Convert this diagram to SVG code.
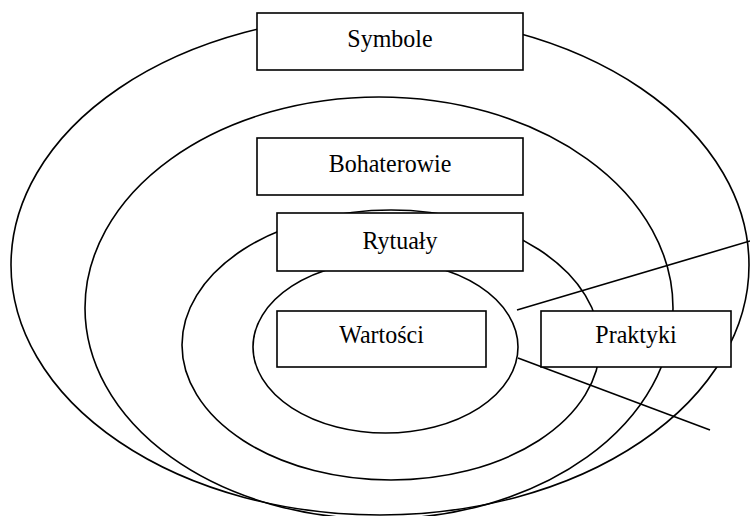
<svg xmlns="http://www.w3.org/2000/svg" width="750" height="516" viewBox="0 0 750 516">
<style>
.ring{fill:none;stroke:#000;stroke-width:1.6}
.box{fill:#fff;stroke:#000;stroke-width:1.6}
.lbl{font-family:"Liberation Serif","Times New Roman",serif;font-size:24px;fill:#000;text-anchor:middle}
.conn{stroke:#000;stroke-width:1.6;fill:none}
</style>
<rect width="750" height="516" fill="#fff"/>
<g id="rings">
<ellipse class="ring" cx="380" cy="265" rx="369" ry="250"/>
<ellipse class="ring" cx="379" cy="308" rx="294" ry="211"/>
<ellipse class="ring" cx="391" cy="345" rx="209" ry="135"/>
<ellipse class="ring" cx="385.5" cy="347" rx="132.5" ry="86"/>
</g>
<g id="connectors">
<line class="conn" x1="517" y1="310" x2="750" y2="241"/>
<line class="conn" x1="518" y1="358" x2="710" y2="430"/>
</g>
<g id="symbole">
<rect class="box" x="257" y="13" width="266" height="57"/>
<text class="lbl" transform="translate(390,47) scale(1,1.08)">Symbole</text>
</g>
<g id="bohaterowie">
<rect class="box" x="257" y="138" width="266" height="57"/>
<text class="lbl" transform="translate(390,172) scale(1,1.08)">Bohaterowie</text>
</g>
<g id="rytualy">
<rect class="box" x="277" y="213" width="246" height="58"/>
<text class="lbl" transform="translate(400,249) scale(1,1.08)">Rytuały</text>
</g>
<g id="wartosci">
<rect class="box" x="277" y="311" width="209" height="56"/>
<text class="lbl" transform="translate(381.5,343) scale(1,1.08)">Wartości</text>
</g>
<g id="praktyki">
<rect class="box" x="541" y="311" width="190" height="56"/>
<text class="lbl" transform="translate(636,343) scale(1,1.08)">Praktyki</text>
</g>
</svg>
